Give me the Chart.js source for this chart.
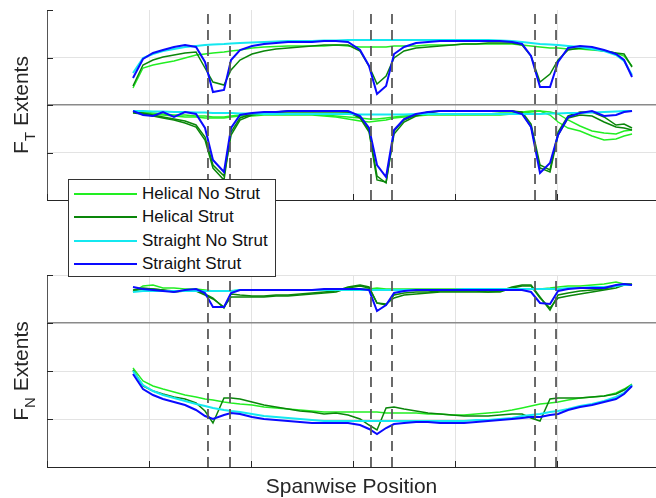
<!DOCTYPE html>
<html>
<head>
<meta charset="utf-8">
<script src="https://cdn.jsdelivr.net/npm/chart.js@4.4.1/dist/chart.umd.min.js"></script>
<style>
  html, body { margin: 0; padding: 0; background: #fff; overflow: hidden; }
  #wrap { position: relative; width: 656px; height: 498px; }
  #ftCanvas { position: absolute; left: 0; top: 0; }
  #fnCanvas { position: absolute; left: 0; top: 250px; }
  #legend {
    position: absolute; left: 68px; top: 179px; width: 208px; height: 98px;
    box-sizing: border-box; border: 1px solid #333; background: #fff; z-index: 2;
    font-family: 'Liberation Sans', Arial, sans-serif; font-size: 17px; color: #111;
  }
  .row { position: absolute; left: 0; height: 23.5px; display: flex; align-items: center; white-space: nowrap; }
  .swatch { display: inline-block; width: 63px; height: 2px; margin-left: 5px; margin-right: 5px; }
</style>
</head>
<body>
<div id="wrap">
  <canvas id="ftCanvas" width="656" height="210"></canvas>
  <canvas id="fnCanvas" width="656" height="248"></canvas>
  <div id="legend"></div>
</div>
<script>
// spanwise stations shared by every run
const span = [0.843, 0.941, 1.039, 1.137, 1.245, 1.353, 1.461, 1.549, 1.627, 1.735,
  1.804, 1.892, 2.010, 2.127, 2.245, 2.363, 2.480, 2.598, 2.716, 2.833,
  2.951, 3.069, 3.157, 3.235, 3.324, 3.402, 3.500, 3.618, 3.735, 3.853,
  3.971, 4.088, 4.206, 4.324, 4.441, 4.559, 4.657, 4.745, 4.833, 4.931,
  5.010, 5.108, 5.225, 5.343, 5.461, 5.578, 5.657, 5.735];
// strut edges (dashed)
const strutEdges = [1.578, 1.794, 3.176, 3.382, 4.784, 4.990];
const xTicks = [0, 1, 2, 3, 4, 5];
const ftTicks = [0, 4.75, 9.5, 14.25, 19];
const fnTicks = [0, 4.8, 9.6, 14.4, 19.2];
const seriesNames = ['Helical No Strut', 'Helical Strut', 'Straight No Strut', 'Straight Strut'];

// F_T upper extents
const ftMaxHelicalNoStrut = [11.2, 13.2, 13.5, 13.7, 13.9, 14.2, 14.5, 14.6, 14.7, 14.8,
  14.9, 15.0, 15.2, 15.3, 15.35, 15.4, 15.4, 15.4, 15.4, 15.5,
  15.4, 15.3, 15.3, 15.3, 15.3, 15.4, 15.4, 15.4, 15.5, 15.5,
  15.5, 15.6, 15.6, 15.6, 15.6, 15.6, 15.5, 15.4, 15.3, 15.2,
  15.2, 15.1, 15.1, 15.0, 14.9, 14.7, 14.4, 13.4];
const ftMaxHelicalStrut = [11.4, 13.5, 14.0, 14.3, 14.5, 14.7, 14.8, 13.2, 11.8, 11.5,
  13.0, 14.0, 14.6, 14.9, 15.1, 15.2, 15.3, 15.4, 15.5, 15.5,
  15.5, 14.9, 13.4, 11.6, 12.4, 14.2, 14.9, 15.2, 15.3, 15.4,
  15.5, 15.6, 15.6, 15.7, 15.7, 15.7, 15.5, 14.4, 11.8, 12.6,
  14.0, 15.0, 15.2, 15.1, 14.9, 14.7, 14.6, 13.3];
const ftMaxStraightNoStrut = [12.7, 14.2, 14.6, 14.9, 15.1, 15.3, 15.4, 15.5, 15.55, 15.6,
  15.65, 15.7, 15.75, 15.8, 15.85, 15.9, 15.9, 15.9, 15.95, 15.95,
  16.0, 16.0, 16.0, 16.0, 16.0, 16.0, 16.0, 16.0, 16.0, 16.0,
  16.0, 16.0, 16.0, 16.0, 15.95, 15.9, 15.8, 15.7, 15.6, 15.55,
  15.5, 15.4, 15.3, 15.1, 14.9, 14.5, 13.9, 12.5];
const ftMaxStraightStrut = [12.2, 14.1, 14.7, 15.0, 15.3, 15.5, 15.3, 13.8, 10.8, 11.0,
  14.0, 15.0, 15.4, 15.6, 15.7, 15.8, 15.8, 15.8, 15.9, 15.9,
  15.8, 15.0, 13.4, 10.6, 11.4, 14.6, 15.3, 15.7, 15.8, 15.9,
  15.9, 15.9, 15.9, 15.9, 15.9, 15.8, 15.6, 14.4, 11.3, 11.3,
  13.8, 15.2, 15.4, 15.3, 15.0, 14.6, 14.0, 12.3];

// F_T lower extents
const ftMinHelicalNoStrut = [8.8, 8.7, 8.6, 8.5, 8.4, 8.3, 8.3, 8.2, 8.2, 8.2,
  8.3, 8.4, 8.4, 8.5, 8.5, 8.5, 8.5, 8.5, 8.4, 8.3,
  8.1, 7.9, 7.8, 7.9, 8.0, 8.2, 8.3, 8.4, 8.5, 8.5,
  8.5, 8.5, 8.5, 8.5, 8.5, 8.6, 8.7, 8.8, 8.9, 8.5,
  7.8, 7.2, 6.9, 6.4, 6.0, 6.1, 6.4, 6.6];
const ftMinHelicalNoStrut2 = [8.9, 8.8, 8.7, 8.6, 8.5, 8.5, 8.4, 8.4, 8.3, 8.3,
  8.4, 8.5, 8.5, 8.6, 8.6, 8.6, 8.6, 8.6, 8.5, 8.4,
  8.3, 8.2, 8.1, 8.1, 8.2, 8.3, 8.4, 8.5, 8.6, 8.6,
  8.6, 8.6, 8.6, 8.6, 8.7, 8.7, 8.8, 8.9, 8.9, 8.8,
  8.6, 8.0, 7.4, 6.9, 6.7, 6.6, 6.9, 7.0];
const ftMinHelicalStrut = [8.7, 8.6, 8.4, 8.2, 8.0, 7.7, 7.3, 6.0, 3.2, 2.0,
  6.8, 8.2, 8.6, 8.7, 8.8, 8.8, 8.8, 8.8, 8.8, 8.8,
  8.8, 8.2, 6.8, 2.0, 1.8, 6.6, 7.8, 8.4, 8.7, 8.9,
  8.9, 8.9, 8.9, 8.9, 8.9, 8.9, 8.7, 7.3, 3.2, 2.8,
  6.5, 8.2, 8.5, 8.4, 7.8, 7.3, 7.2, 7.0];
const ftMinHelicalStrut2 = [8.8, 8.7, 8.5, 8.3, 8.1, 7.9, 7.5, 6.3, 3.5, 2.4,
  6.5, 8.0, 8.5, 8.7, 8.8, 8.9, 8.9, 8.9, 8.9, 8.9,
  8.8, 8.3, 7.0, 2.4, 1.7, 6.9, 8.0, 8.5, 8.8, 8.9,
  8.9, 8.9, 8.9, 8.9, 8.9, 8.9, 8.8, 7.6, 3.5, 3.0,
  6.8, 8.4, 8.8, 8.8, 8.3, 7.5, 7.6, 7.2];
const ftMinStraightNoStrut = [8.9, 8.9, 8.85, 8.85, 8.8, 8.8, 8.75, 8.75, 8.7, 8.7,
  8.7, 8.65, 8.65, 8.6, 8.6, 8.6, 8.6, 8.6, 8.6, 8.6,
  8.6, 8.55, 8.55, 8.55, 8.55, 8.55, 8.55, 8.6, 8.6, 8.6,
  8.6, 8.6, 8.6, 8.6, 8.6, 8.6, 8.6, 8.6, 8.6, 8.65,
  8.65, 8.7, 8.7, 8.75, 8.8, 8.85, 8.9, 8.9];
const ftMinStraightStrut = [8.9, 8.5, 8.4, 8.8, 8.3, 8.8, 8.6, 7.2, 4.0, 2.8,
  7.2, 8.5, 8.7, 8.8, 8.8, 8.9, 8.9, 8.9, 8.9, 8.9,
  8.9, 8.4, 7.2, 3.5, 2.3, 7.0, 8.1, 8.6, 8.8, 8.9,
  8.9, 8.9, 8.9, 8.9, 8.9, 8.9, 8.6, 7.3, 2.7, 3.7,
  6.5, 8.3, 8.7, 8.9, 8.4, 8.5, 8.8, 8.9];

// F_N upper extents
const fnMaxHelicalNoStrut = [17.5, 18.1, 18.2, 17.9, 17.9, 17.8, 17.8, 17.7, 17.6, 17.6,
  17.6, 17.7, 17.7, 17.7, 17.7, 17.7, 17.7, 17.7, 17.7, 17.7,
  17.7, 17.8, 17.8, 17.9, 17.8, 17.8, 17.8, 17.8, 17.8, 17.8,
  17.8, 17.8, 17.8, 17.8, 17.8, 17.8, 17.8, 17.8, 17.8, 17.9,
  18.0, 18.1, 18.1, 18.2, 18.3, 18.5, 18.3, 18.2];
const fnMaxHelicalStrut = [17.7, 17.9, 17.8, 17.7, 17.5, 17.6, 17.7, 17.3, 16.9, 15.9,
  17.3, 17.2, 17.1, 17.1, 17.2, 17.2, 17.3, 17.4, 17.5, 17.6,
  18.0, 18.2, 18.0, 16.4, 16.2, 17.2, 17.4, 17.5, 17.5, 17.6,
  17.6, 17.6, 17.6, 17.5, 17.6, 18.0, 18.2, 18.2, 17.0, 15.7,
  17.2, 17.4, 17.6, 17.7, 17.8, 18.1, 18.3, 18.3];
const fnMaxHelicalStrut2 = [17.6, 17.8, 17.8, 17.7, 17.6, 17.6, 17.6, 17.2, 16.8, 16.0,
  17.0, 17.0, 17.0, 17.0, 17.1, 17.1, 17.2, 17.3, 17.4, 17.5,
  17.9, 18.1, 17.9, 16.4, 16.3, 16.9, 17.2, 17.3, 17.4, 17.5,
  17.5, 17.5, 17.5, 17.5, 17.5, 17.9, 18.1, 18.1, 16.9, 15.9,
  16.9, 17.1, 17.3, 17.5, 17.7, 17.9, 18.2, 18.2];
const fnMaxStraightNoStrut = [17.5, 17.6, 17.6, 17.6, 17.6, 17.6, 17.6, 17.6, 17.6, 17.6,
  17.6, 17.7, 17.7, 17.7, 17.7, 17.7, 17.7, 17.7, 17.7, 17.7,
  17.7, 17.7, 17.7, 17.7, 17.7, 17.7, 17.7, 17.7, 17.7, 17.7,
  17.7, 17.8, 17.8, 17.8, 17.8, 17.8, 17.8, 17.8, 17.8, 17.8,
  17.8, 17.9, 17.9, 18.0, 18.0, 18.1, 18.2, 18.2];
const fnMaxStraightStrut = [18.0, 17.8, 17.7, 17.6, 17.5, 17.7, 17.8, 17.4, 16.0, 16.0,
  17.4, 17.7, 17.7, 17.7, 17.7, 17.7, 17.7, 17.7, 17.8, 17.8,
  17.8, 17.8, 17.7, 15.6, 16.2, 17.4, 17.6, 17.7, 17.7, 17.7,
  17.7, 17.7, 17.7, 17.7, 17.7, 17.7, 17.7, 17.5, 16.4, 16.3,
  17.6, 17.8, 17.9, 17.9, 17.9, 18.2, 18.3, 18.2];

// F_N lower extents
const fnMinHelicalNoStrut = [9.9, 8.6, 8.1, 7.8, 7.5, 7.2, 7.0, 6.8, 6.7, 6.5,
  6.4, 6.3, 6.2, 6.0, 5.9, 5.8, 5.7, 5.6, 5.5, 5.5,
  5.5, 5.5, 5.5, 5.5, 5.4, 5.4, 5.4, 5.4, 5.3, 5.3,
  5.2, 5.2, 5.3, 5.4, 5.5, 5.7, 5.9, 6.1, 6.3, 6.4,
  6.5, 6.7, 6.9, 7.0, 7.1, 7.4, 7.8, 8.3];
const fnMinHelicalStrut = [9.7, 8.1, 7.6, 7.3, 7.0, 6.8, 6.4, 5.6, 4.4, 6.9,
  6.9, 6.8, 6.5, 6.2, 6.0, 5.8, 5.6, 5.5, 5.3, 5.4,
  5.2, 4.8, 4.2, 3.7, 5.9, 6.0, 5.8, 5.6, 5.4, 5.3,
  5.2, 5.1, 5.1, 5.1, 5.2, 5.3, 5.3, 4.9, 4.6, 6.8,
  6.9, 6.9, 6.9, 7.0, 7.1, 7.3, 7.7, 8.2];
const fnMinStraightNoStrut = [9.6, 8.2, 7.6, 7.2, 6.9, 6.6, 6.3, 6.1, 5.9, 5.7,
  5.6, 5.5, 5.3, 5.1, 5.0, 4.9, 4.8, 4.7, 4.6, 4.6,
  4.6, 4.6, 4.6, 4.6, 4.6, 4.6, 4.6, 4.6, 4.6, 4.6,
  4.6, 4.6, 4.7, 4.7, 4.8, 4.9, 5.1, 5.2, 5.3, 5.5,
  5.6, 5.8, 6.1, 6.3, 6.6, 7.0, 7.4, 8.2];
const fnMinStraightStrut = [9.3, 7.8, 7.2, 6.8, 6.5, 6.2, 5.7, 5.1, 4.8, 5.2,
  5.4, 5.3, 5.0, 4.8, 4.7, 4.6, 4.5, 4.4, 4.4, 4.4,
  4.4, 4.2, 3.8, 3.3, 3.9, 4.3, 4.4, 4.5, 4.5, 4.4,
  4.4, 4.4, 4.5, 4.6, 4.7, 4.8, 4.9, 5.0, 5.0, 5.2,
  5.3, 5.7, 6.0, 6.2, 6.5, 6.8, 7.3, 8.1];

const seriesColors = ['#22ee22', '#0a860a', '#14e8f0', '#0a0aff'];
const seriesWidths = [1.4, 1.5, 2, 2];
const seriesOrder = [4, 3, 2, 1]; // straight strut ends up on top

function curve(values, s) {
  return {
    label: seriesNames[s],
    data: values.map((v, i) => ({ x: span[i], y: v })),
    borderColor: seriesColors[s],
    borderWidth: seriesWidths[s],
    pointRadius: 0,
    tension: 0,
    fill: false,
    order: seriesOrder[s]
  };
}

function strutLines(top) {
  return strutEdges.map(x => ({
    data: [{ x: x, y: 0 }, { x: x, y: top }],
    borderColor: '#5a5a5a',
    borderWidth: 1.8,
    borderDash: [10, 6],
    pointRadius: 0,
    order: 0
  }));
}

// matlab style ticks pointing into the plot
const inwardTicks = {
  id: 'inwardTicks',
  afterDraw(chart) {
    const { ctx, chartArea, scales } = chart;
    ctx.save();
    ctx.strokeStyle = '#262626';
    ctx.lineWidth = 1;
    ctx.beginPath();
    scales.y.ticks.forEach(t => {
      const y = Math.round(scales.y.getPixelForValue(t.value)) + 0.5;
      ctx.moveTo(chartArea.left, y);
      ctx.lineTo(chartArea.left + 6, y);
    });
    scales.x.ticks.forEach(t => {
      const x = Math.round(scales.x.getPixelForValue(t.value)) + 0.5;
      ctx.moveTo(x, chartArea.bottom);
      ctx.lineTo(x, chartArea.bottom - 6);
    });
    ctx.stroke();
    ctx.restore();
  }
};

// rotated y label with a subscript
const axisLabel = {
  id: 'axisLabel',
  afterDraw(chart, args, opts) {
    const { ctx, chartArea } = chart;
    const cy = (chartArea.top + chartArea.bottom) / 2;
    const big = '21px "Liberation Sans", Arial, sans-serif';
    const small = '15px "Liberation Sans", Arial, sans-serif';
    ctx.save();
    ctx.translate(28, cy);
    ctx.rotate(-Math.PI / 2);
    ctx.fillStyle = '#262626';
    ctx.textBaseline = 'alphabetic';
    ctx.font = big;
    const w1 = ctx.measureText(opts.main).width;
    const w3 = ctx.measureText(opts.rest).width;
    ctx.font = small;
    const w2 = ctx.measureText(opts.sub).width;
    let x = -(w1 + w2 + w3) / 2;
    ctx.font = big;
    ctx.fillText(opts.main, x, 0);
    x += w1;
    ctx.font = small;
    ctx.fillText(opts.sub, x, 7);
    x += w2;
    ctx.font = big;
    ctx.fillText(opts.rest, x, 0);
    ctx.restore();
  }
};

function panel(id, datasets, yTicks, midValue, showTopGrid, padTop, xHeight, xTitle, sub) {
  const yTop = yTicks[yTicks.length - 1];
  return new Chart(document.getElementById(id).getContext('2d'), {
    type: 'line',
    data: { datasets: datasets.concat(strutLines(yTop)) },
    plugins: [inwardTicks, axisLabel],
    options: {
      responsive: false,
      animation: false,
      events: [],
      layout: { padding: { top: padTop, left: 0, right: 0, bottom: 0 } },
      plugins: {
        legend: { display: false },
        tooltip: { enabled: false },
        axisLabel: { main: 'F', sub: sub, rest: ' Extents' }
      },
      scales: {
        x: {
          type: 'linear',
          min: 0,
          max: 5.97,
          afterBuildTicks: s => { s.ticks = xTicks.map(v => ({ value: v })); },
          afterFit: s => { s.height = xHeight; },
          ticks: { display: false },
          grid: {
            drawTicks: false,
            color: c => c.tick.value === 0 ? 'rgba(0,0,0,0)' : '#e3e3e3'
          },
          border: { color: '#262626', width: 1 },
          title: {
            display: !!xTitle,
            text: xTitle || '',
            color: '#262626',
            padding: 0,
            font: { family: '"Liberation Sans", Arial, sans-serif', size: 21, lineHeight: 1 }
          }
        },
        y: {
          min: 0,
          max: yTop,
          afterBuildTicks: s => { s.ticks = yTicks.map(v => ({ value: v })); },
          afterFit: s => { s.width = 47; },
          ticks: { display: false },
          grid: {
            drawTicks: false,
            color: c => {
              const v = c.tick.value;
              if (v === midValue) return '#8a8a8a';
              if (v === 0 || (v === yTop && !showTopGrid)) return 'rgba(0,0,0,0)';
              return '#e3e3e3';
            },
            lineWidth: c => c.tick.value === midValue ? 1.5 : 1
          },
          border: { color: '#555', width: 1 }
        }
      }
    }
  });
}

const ftChart = panel('ftCanvas', [
  curve(ftMaxHelicalNoStrut, 0), curve(ftMaxHelicalStrut, 1),
  curve(ftMaxStraightNoStrut, 2), curve(ftMaxStraightStrut, 3),
  curve(ftMinHelicalNoStrut, 0), curve(ftMinHelicalNoStrut2, 0),
  curve(ftMinHelicalStrut, 1), curve(ftMinHelicalStrut2, 1),
  curve(ftMinStraightNoStrut, 2), curve(ftMinStraightStrut, 3)
], ftTicks, 9.5, false, 10, 10, null, 'T');

const fnChart = panel('fnCanvas', [
  curve(fnMaxHelicalNoStrut, 0), curve(fnMaxHelicalStrut, 1), curve(fnMaxHelicalStrut2, 1),
  curve(fnMaxStraightNoStrut, 2), curve(fnMaxStraightStrut, 3),
  curve(fnMinHelicalNoStrut, 0), curve(fnMinHelicalStrut, 1),
  curve(fnMinStraightNoStrut, 2), curve(fnMinStraightStrut, 3)
], fnTicks, 14.4, true, 25, 31, 'Spanwise Position', 'N');

// legend box sitting between the two panels
const legend = document.getElementById('legend');
seriesNames.forEach((name, i) => {
  const row = document.createElement('div');
  row.className = 'row';
  row.style.top = (1.75 + i * 23.5) + 'px';
  const sw = document.createElement('span');
  sw.className = 'swatch';
  sw.style.backgroundColor = seriesColors[i];
  const txt = document.createElement('span');
  txt.textContent = name;
  row.appendChild(sw);
  row.appendChild(txt);
  legend.appendChild(row);
});
</script>
</body>
</html>
